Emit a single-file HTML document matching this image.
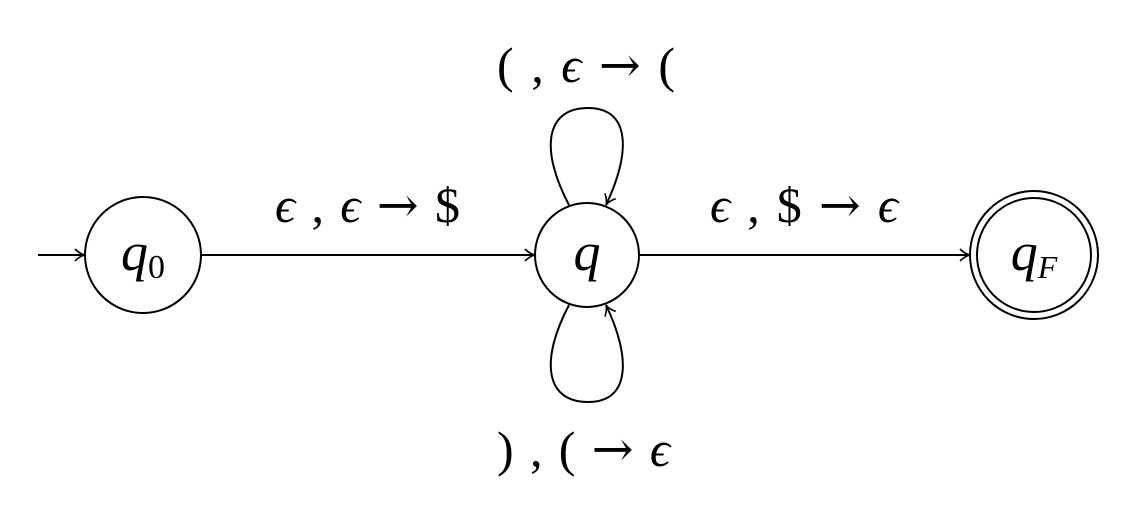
<!DOCTYPE html>
<html><head><meta charset="utf-8"><style>body{margin:0;background:#fff}svg{display:block}text{font-family:"Liberation Serif",serif;font-style:italic;fill:#000}.ar{font-family:"DejaVu Serif",serif;font-style:normal;font-size:50px}</style></head>
<body>
<svg width="1128" height="530" viewBox="0 0 1128 530" xmlns="http://www.w3.org/2000/svg">
<defs><marker id="a" markerWidth="14" markerHeight="14" refX="12" refY="7" orient="auto" markerUnits="userSpaceOnUse"><path d="M2,1 Q7,6 12,7 Q7,8 2,13" fill="none" stroke="#000" stroke-width="1.6"/></marker></defs>
<g fill="none" stroke="#000" stroke-width="2">
<circle cx="143" cy="255" r="58"/>
<circle cx="587" cy="255" r="52"/>
<circle cx="1034" cy="255" r="64"/>
<circle cx="1034" cy="255" r="57"/>
<line x1="38" y1="255" x2="85" y2="255" marker-end="url(#a)"/>
<line x1="201" y1="255" x2="535" y2="255" marker-end="url(#a)"/>
<line x1="639" y1="255" x2="970" y2="255" marker-end="url(#a)"/>
<path d="M569,205 C540,150 545,108 588,108 C632,108 630,155 606,205" marker-end="url(#a)"/>
<path d="M569,305 C540,360 545,402 588,402 C632,402 630,355 606,305" marker-end="url(#a)"/>
</g>
<text x="143" y="270" font-size="54" text-anchor="middle">q<tspan font-size="34" font-style="normal" dy="8">0</tspan></text>
<text x="587" y="270" font-size="54" text-anchor="middle">q</text>
<text x="1034" y="270" font-size="54" text-anchor="middle">q<tspan font-size="32" dy="8">F</tspan></text>
<text x="275" y="222" font-size="50" textLength="185" lengthAdjust="spacing">ϵ<tspan font-style="normal">,</tspan>ϵ<tspan class="ar">→</tspan><tspan font-style="normal">$</tspan></text>
<text x="710" y="222" font-size="50" textLength="188" lengthAdjust="spacing">ϵ<tspan font-style="normal">,$</tspan><tspan class="ar">→</tspan>ϵ</text>
<text x="497" y="82" font-size="50" textLength="178" lengthAdjust="spacing"><tspan font-style="normal">(,</tspan>ϵ<tspan class="ar">→</tspan><tspan font-style="normal">(</tspan></text>
<text x="497" y="466" font-size="50" textLength="173" lengthAdjust="spacing"><tspan font-style="normal">),(</tspan><tspan class="ar">→</tspan>ϵ</text>
</svg>
</body></html>
